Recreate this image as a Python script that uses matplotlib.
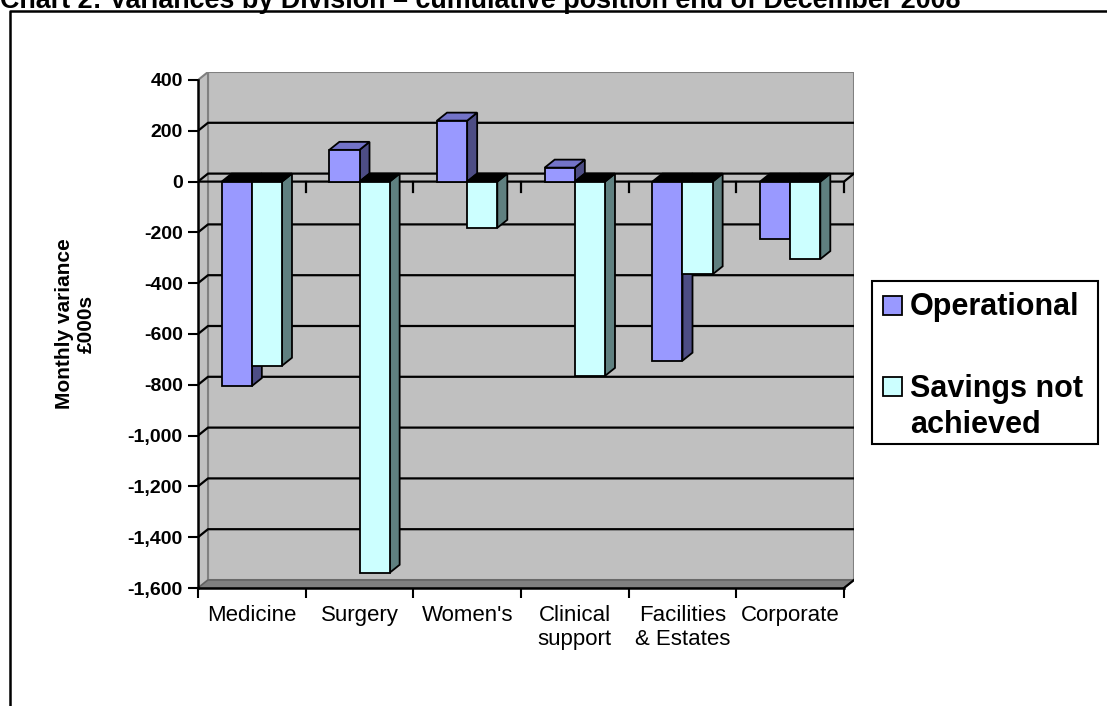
import numpy as np
import matplotlib.pyplot as plt
from matplotlib.patches import Rectangle
from matplotlib.lines import Line2D

plt.rcParams['font.family'] = ['Liberation Sans', 'DejaVu Sans']

# Data (£000s)
divisions = ["Medicine", "Surgery", "Women's", "Clinical\nsupport", "Facilities\n& Estates", "Corporate"]
operational = [-805, 125, 240, 55, -705, -225]
savings_not_achieved = [-725, -1540, -182, -765, -365, -305]
y_ticks = list(range(-1600, 401, 200))
series_names = ["Operational", "Savings not\nachieved"]

title = "Chart 2: Variances by Division \u2013 cumulative position end of December 2008"

# colours of the pseudo 3D faces
op_cols = {'front': '#9999FF', 'top': '#7373C8', 'side': '#4D4D85'}
sv_cols = {'front': '#CCFFFF', 'top': '#99BFBF', 'side': '#5F8080'}

W, H = 1107, 706
fig = plt.figure(figsize=(W / 100, H / 100), dpi=100)

# front plane in pixels: x 198..844, y(400)=80 .. y(-1600)=588 ; depth 10px right, 8px up
n = len(divisions)
px_cat = (844 - 198) / n
px_unit = (588 - 80) / 2000
dx = 10 / px_cat
dy = 8 / px_unit
ymin, ymax = y_ticks[0], y_ticks[-1]

ax = fig.add_axes([198 / W, 1 - 588 / H, (844 + 10 - 198) / W, (588 - 72) / H])
ax.set_xlim(0, n + dx)
ax.set_ylim(ymin, ymax + dy)
ax.patch.set_visible(False)

# walls and floor
ax.fill([dx, n + dx, n + dx, dx], [ymin + dy, ymin + dy, ymax + dy, ymax + dy],
        facecolor='#C0C0C0', edgecolor='#808080', lw=1.5, zorder=1)
ax.fill([0, dx, dx, 0], [ymin, ymin + dy, ymax + dy, ymax],
        facecolor='#C0C0C0', edgecolor='#808080', lw=1.5, zorder=1)
ax.fill([0, n, n + dx, dx], [ymin, ymin, ymin + dy, ymin + dy],
        facecolor='#808080', edgecolor='#606060', lw=1, zorder=1)
ax.plot([n, n + dx], [ymin, ymin + dy], color='black', lw=1.6, zorder=3)

# gridlines on back wall + side wall
for v in y_ticks[1:-1]:
    ax.plot([0, dx, n + dx], [v, v + dy, v + dy], color='black', lw=1.6, zorder=2)

# zero plane: front line, right diagonal and small category ticks
tick_len = 10 / px_unit
ax.plot([0, n, n + dx], [0, 0, dy], color='black', lw=1.6, zorder=3)
for i in range(1, n + 1):
    ax.plot([i, i], [0, -tick_len], color='black', lw=1.6, zorder=3)


def draw_bar(x0, x1, v, cols, z):
    # side face
    ax.fill([x1, x1, x1 + dx, x1 + dx], [0, v, v + dy, dy],
            facecolor=cols['side'], edgecolor='black', lw=1.3, zorder=z)
    # top face (black at zero level for negative bars)
    top = v if v > 0 else 0
    fc = cols['top'] if v > 0 else 'black'
    ax.fill([x0, x1, x1 + dx, x0 + dx], [top, top, top + dy, top + dy],
            facecolor=fc, edgecolor='black', lw=1.3, zorder=z)
    # front face
    ax.fill([x0, x1, x1, x0], [0, 0, v, v],
            facecolor=cols['front'], edgecolor='black', lw=1.3, zorder=z)


w = 0.28
for i in range(n):
    c = i + 0.5
    draw_bar(c - w, c, operational[i], op_cols, 4 + 2 * i)
    draw_bar(c, c + w, savings_not_achieved[i], sv_cols, 5 + 2 * i)

# axes
for s in ['top', 'right']:
    ax.spines[s].set_visible(False)
ax.spines['left'].set_bounds(ymin, ymax)
ax.spines['bottom'].set_bounds(0, n)
for s in ['left', 'bottom']:
    ax.spines[s].set_linewidth(1.8)
    ax.spines[s].set_zorder(30)

ax.set_yticks(y_ticks)
ax.set_yticklabels([f"{v:,}" for v in y_ticks], fontsize=14, fontweight='bold')
ax.tick_params(axis='y', direction='out', length=7.5, width=1.5, pad=3.5)

ax.set_xticks(range(n + 1))
ax.set_xticklabels([])
ax.set_xticks(np.arange(n) + 0.5, minor=True)
ax.set_xticklabels(divisions, minor=True, fontsize=16)
ax.tick_params(axis='x', which='major', direction='out', length=7.5, width=1.5)
ax.tick_params(axis='x', which='minor', length=0, pad=12)

fig.text(75 / W, 1 - 324 / H, "Monthly variance\n\u00a3000s", rotation=90,
         ha='center', va='center', fontsize=15, fontweight='bold')

# legend, drawn by hand in figure pixels
def fx(x):
    return x / W


def fy(y):
    return 1 - y / H


fig.add_artist(Rectangle((fx(872), fy(444)), fx(1098) - fx(872), fy(281) - fy(444),
                         transform=fig.transFigure, facecolor='white', edgecolor='black', lw=1.5))
leg_rows = [(op_cols['front'], 296, 315), (sv_cols['front'], 377, 397)]
for (col, sq_top, base), name in zip(leg_rows, series_names):
    fig.add_artist(Rectangle((fx(883), fy(sq_top + 19)), fx(902) - fx(883), fy(sq_top) - fy(sq_top + 19),
                             transform=fig.transFigure, facecolor=col, edgecolor='black', lw=1.3))
    for k, line in enumerate(name.split('\n')):
        fig.text(fx(910), fy(base + 36 * k), line, ha='left', va='baseline',
                 fontsize=22, fontweight='bold')

# title (top is cut off in the source image) and outer frame
t = fig.text(0, fy(8), title, ha='left', va='baseline', fontsize=20, fontweight='bold')
fig.canvas.draw()
tw = t.get_window_extent().width
t.set_fontsize(20 * 962 / tw)

fig.add_artist(Line2D([fx(10), fx(10), 1.0], [0, fy(11), fy(11)],
                      transform=fig.transFigure, color='black', lw=1.8))

fig.savefig('out.png', dpi=100)
